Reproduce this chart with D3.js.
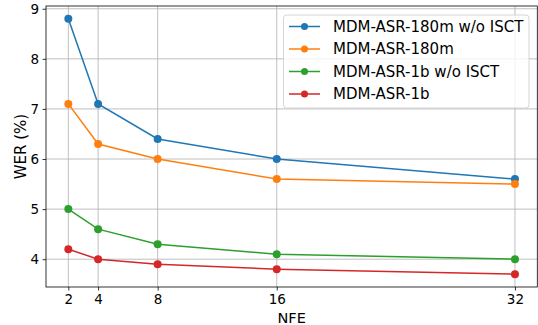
<!DOCTYPE html>
<html><head><meta charset="utf-8">
<script src="https://cdn.jsdelivr.net/npm/d3@7"></script>
<style>body{margin:0;background:#fff;} svg{display:block;font-family:"DejaVu Sans",sans-serif;}</style>
</head><body>
<script>
const nfe = [2, 4, 8, 16, 32];
const xTicks = [2, 4, 8, 16, 32];
const yTicks = [4, 5, 6, 7, 8, 9];
const seriesNames = ["MDM-ASR-180m w/o ISCT", "MDM-ASR-180m", "MDM-ASR-1b w/o ISCT", "MDM-ASR-1b"];
const wer180mNoIsct = [8.8, 7.1, 6.4, 6.0, 5.6];
const wer180m = [7.1, 6.3, 6.0, 5.6, 5.5];
const wer1bNoIsct = [5.0, 4.6, 4.3, 4.1, 4.0];
const wer1b = [4.2, 4.0, 3.9, 3.8, 3.7];
const colors = ["#1f77b4", "#ff7f0e", "#2ca02c", "#d62728"];
const series = [wer180mNoIsct, wer180m, wer1bNoIsct, wer1b];

const W = 538, H = 325;
const m = {left: 46, right: 537.3, top: 6, bottom: 287};
const svg = d3.select("body").append("svg").attr("width", W).attr("height", H);
const x = d3.scaleLinear().domain([0.5, 33.5]).range([m.left, m.right]);
const y = d3.scaleLinear().domain([3.445, 9.055]).range([m.bottom, m.top]);

// grid
const g = svg.append("g");
g.selectAll(".gx").data(xTicks).enter().append("line")
  .attr("x1", d => x(d)).attr("x2", d => x(d)).attr("y1", m.top).attr("y2", m.bottom)
  .attr("stroke", "#b0b0b0").attr("stroke-width", 0.8);
g.selectAll(".gy").data(yTicks).enter().append("line")
  .attr("x1", m.left).attr("x2", m.right).attr("y1", d => y(d)).attr("y2", d => y(d))
  .attr("stroke", "#b0b0b0").attr("stroke-width", 0.8);

// lines
const line = d3.line().x((d, i) => x(nfe[i])).y(d => y(d));
series.forEach((s, k) => {
  svg.append("path").datum(s).attr("d", line).attr("fill", "none")
    .attr("stroke", colors[k]).attr("stroke-width", 1.5);
  svg.selectAll(".p" + k).data(s).enter().append("circle")
    .attr("cx", (d, i) => x(nfe[i])).attr("cy", d => y(d)).attr("r", 4)
    .attr("fill", colors[k]);
});

// axes
const xa = svg.append("g").attr("transform", `translate(0,${m.bottom})`)
  .call(d3.axisBottom(x).tickValues(xTicks).tickFormat(d3.format("d")).tickSize(3.5).tickPadding(3.5).tickSizeOuter(0));
const ya = svg.append("g").attr("transform", `translate(${m.left},0)`)
  .call(d3.axisLeft(y).tickValues(yTicks).tickFormat(d3.format("d")).tickSize(3.5).tickPadding(3.5).tickSizeOuter(0));
[xa, ya].forEach(a => {
  a.selectAll("text").attr("font-size", 13.5).attr("fill", "#000").attr("font-family", "DejaVu Sans");
  a.selectAll("line").attr("stroke", "#000").attr("stroke-width", 0.8);
  a.select(".domain").remove();
});
// spines
svg.append("rect").attr("x", m.left).attr("y", m.top).attr("width", m.right - m.left)
  .attr("height", m.bottom - m.top).attr("fill", "none").attr("stroke", "#000").attr("stroke-width", 0.8);

svg.append("text").attr("x", (m.left + m.right) / 2).attr("y", 322.5).attr("text-anchor", "middle")
  .attr("font-size", 14.5).text("NFE");
svg.append("text").attr("transform", `translate(26,${(m.top + m.bottom) / 2}) rotate(-90)`)
  .attr("text-anchor", "middle").attr("font-size", 15).text("WER (%)");

// legend
const lg = svg.append("g");
lg.append("rect").attr("x", 283.5).attr("y", 15).attr("width", 245.5).attr("height", 93)
  .attr("rx", 3).attr("fill", "#fff").attr("fill-opacity", 0.8).attr("stroke", "#cccccc").attr("stroke-width", 0.8);
seriesNames.forEach((n, k) => {
  const yy = 26.5 + k * 22.5;
  lg.append("line").attr("x1", 289).attr("x2", 320).attr("y1", yy).attr("y2", yy)
    .attr("stroke", colors[k]).attr("stroke-width", 1.5);
  lg.append("circle").attr("cx", 304.5).attr("cy", yy).attr("r", 3.5).attr("fill", colors[k]);
  lg.append("text").attr("x", 333).attr("y", yy + 5.2).attr("font-size", 15).text(n);
});
</script>
</body></html>
